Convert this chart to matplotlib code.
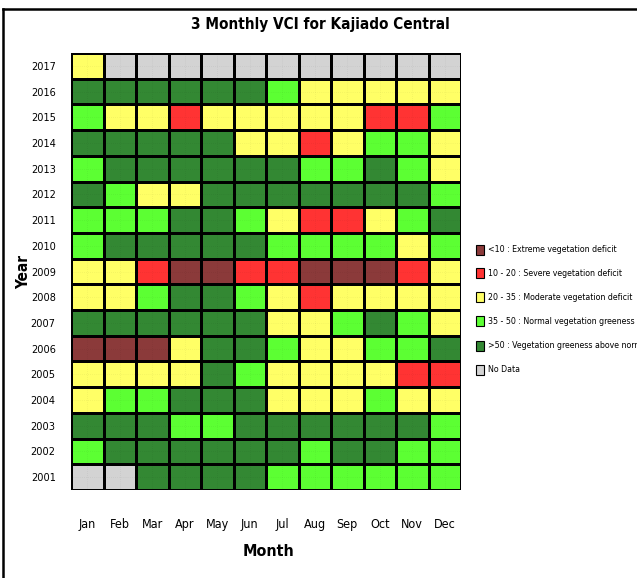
import matplotlib
matplotlib.use("Agg")
import matplotlib.pyplot as plt
import numpy as np
from matplotlib.colors import ListedColormap, BoundaryNorm
from matplotlib.patches import Rectangle
from matplotlib.lines import Line2D

months = ["Jan", "Feb", "Mar", "Apr", "May", "Jun", "Jul", "Aug", "Sep", "Oct", "Nov", "Dec"]
years = list(range(2001, 2018))

# E=extreme, R=severe, Y=moderate, L=normal, D=above normal, N=no data
rows = {
    2017: "Y N N N N N N N N N N N",
    2016: "D D D D D D L Y Y Y Y Y",
    2015: "L Y Y R Y Y Y Y Y R R L",
    2014: "D D D D D Y Y R Y L L Y",
    2013: "L D D D D D D L L D L Y",
    2012: "D L Y Y D D D D D D D L",
    2011: "L L L D D L Y R R Y L D",
    2010: "L D D D D D L L L L Y L",
    2009: "Y Y R E E R R E E E R Y",
    2008: "Y Y L D D L Y R Y Y Y Y",
    2007: "D D D D D D Y Y L D L Y",
    2006: "E E E Y D D L Y Y L L D",
    2005: "Y Y Y Y D L Y Y Y Y R R",
    2004: "Y L L D D D Y Y Y L Y Y",
    2003: "D D D L L D D D D D D L",
    2002: "L D D D D D D L D D L L",
    2001: "N N D D D D L L L L L L",
}
codes = ["E", "R", "Y", "L", "D", "N"]
labels = ["<10 : Extreme vegetation deficit",
          "10 - 20 : Severe vegetation deficit",
          "20 - 35 : Moderate vegetation deficit",
          "35 - 50 : Normal vegetation greeness",
          ">50 : Vegetation greeness above normal",
          "No Data"]
colors = ["#8B3A3A", "#FF3333", "#FFFF66", "#5CFF33", "#338833", "#D3D3D3"]

grid = np.array([[codes.index(c) for c in rows[y].split()] for y in years])

plt.rcParams["font.family"] = ["DejaVu Sans"]
plt.rcParams["font.stretch"] = "condensed"

W, H = 637, 578
fig = plt.figure(figsize=(W / 100, H / 100), dpi=100)
ax = fig.add_axes([71 / W, 1 - 490 / H, 390 / W, 437 / H])

cmap = ListedColormap(colors)
norm = BoundaryNorm(np.arange(-0.5, len(colors) + 0.5, 1), cmap.N)
x = np.arange(len(months) + 1)
y = np.arange(len(years) + 1)
ax.pcolormesh(x, y, grid, cmap=cmap, norm=norm, edgecolors="black", linewidth=1.0)

# faint dotted lines through cell centres
for xc in np.arange(len(months)) + 0.5:
    ax.axvline(xc, color="black", lw=0.5, ls=(0, (1, 2)), alpha=0.08)
for yc in np.arange(len(years)) + 0.5:
    ax.axhline(yc, color="black", lw=0.5, ls=(0, (1, 2)), alpha=0.08)

ax.set_xlim(0, len(months))
ax.set_ylim(0, len(years))
ax.set_xticks(np.arange(len(months)) + 0.5)
ax.set_xticklabels(months, fontsize=9, fontstretch="condensed")
ax.set_yticks(np.arange(len(years)) + 0.5)
ax.set_yticklabels([str(v) for v in years], fontsize=7.8, fontstretch="condensed")
ax.tick_params(axis="x", length=0, pad=20)
ax.tick_params(axis="y", length=0, pad=11)
for s in ax.spines.values():
    s.set_visible(False)

fig.text(320 / W, 1 - 25 / H, "3 Monthly VCI for Kajiado Central", ha="center", va="center",
         fontsize=11, fontweight="bold", fontstretch="condensed")
fig.text(268 / W, 1 - 551 / H, "Month", ha="center", va="center", fontsize=11.5,
         fontweight="bold", fontstretch="condensed")
fig.text(24 / W, 1 - 272 / H, "Year", ha="center", va="center", rotation=90,
         fontsize=11, fontweight="bold")

# legend
leg_y = [250, 273, 297, 321, 346, 370]
for ly, lab, col in zip(leg_y, labels, colors):
    fig.patches.append(Rectangle((476 / W, 1 - (ly + 5) / H), 8 / W, 10 / H,
                                 transform=fig.transFigure, facecolor=col,
                                 edgecolor="black", lw=0.8))
    fig.text(488 / W, 1 - ly / H, lab, ha="left", va="center", fontsize=6.3,
             fontstretch="condensed")

# outer frame (top and left)
fig.add_artist(Line2D([3 / W, 1], [1 - 9 / H, 1 - 9 / H], transform=fig.transFigure,
                      color="black", lw=1.8))
fig.add_artist(Line2D([3 / W, 3 / W], [0, 1 - 9 / H], transform=fig.transFigure,
                      color="black", lw=1.8))

fig.savefig("out.png", dpi=100)
